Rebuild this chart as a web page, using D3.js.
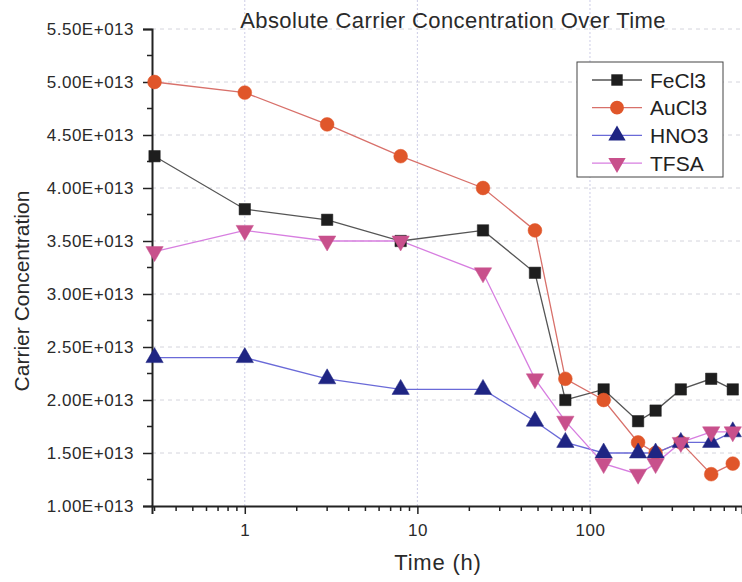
<!DOCTYPE html>
<html>
<head>
<meta charset="utf-8">
<script src="https://cdn.jsdelivr.net/npm/d3@7"></script>
<style>
  body { margin: 0; background: #fff; }
  svg { display: block; font-family: "Liberation Sans", Arial, sans-serif; }
</style>
</head>
<body>
<div id="chart-holder"></div>
<script>
// data
var times = [0.3, 1, 3, 8, 24, 48, 72, 120, 190, 240, 336, 504, 672];
var fecl3 = [4.3, 3.8, 3.7, 3.5, 3.6, 3.2, 2.0, 2.1, 1.8, 1.9, 2.1, 2.2, 2.1];
var aucl3 = [5.0, 4.9, 4.6, 4.3, 4.0, 3.6, 2.2, 2.0, 1.6, 1.5, 1.6, 1.3, 1.4];
var hno3 = [2.4, 2.4, 2.2, 2.1, 2.1, 1.8, 1.6, 1.5, 1.5, 1.5, 1.6, 1.6, 1.7];
var tfsa = [3.4, 3.6, 3.5, 3.5, 3.2, 2.2, 1.8, 1.4, 1.3, 1.4, 1.6, 1.7, 1.7];
var yTicks = [1.0, 1.5, 2.0, 2.5, 3.0, 3.5, 4.0, 4.5, 5.0, 5.5];
var xTicks = [1, 10, 100];

// series setup
var series = [
  { name: "FeCl3", values: fecl3, line: "#555555", fill: "#1e1e1e", shape: d3.symbolSquare, size: 130, rot: 0 },
  { name: "AuCl3", values: aucl3, line: "#d8706a", fill: "#e0562a", shape: d3.symbolCircle, size: 150, rot: 0 },
  { name: "HNO3", values: hno3, line: "#6a6ad8", fill: "#1f2583", shape: d3.symbolTriangle, size: 130, rot: 0 },
  { name: "TFSA", values: tfsa, line: "#d77ee0", fill: "#c8508c", shape: d3.symbolTriangle, size: 130, rot: 180 }
];

var svg = d3.select("#chart-holder")
  .append("svg")
  .attr('width', 742)
  .attr('height', 582);

// scales
var x = d3.scaleLog()
  .domain([0.29, 760])
  .range([152, 742]);
var y = d3.scaleLinear()
  .domain([1.0, 5.5])
  .range([506, 29]);

// grid lines
svg.selectAll("line.grid-y")
  .data(yTicks.slice(1))
  .enter()
  .append("line")
  .attr('class', 'grid-y')
  .attr('x1', 152)
  .attr('x2', 742)
  .attr('y1', function(d) { return y(d); })
  .attr('y2', function(d) { return y(d); })
  .attr('stroke', '#d4d4dc')
  .attr('stroke-width', 1)
  .attr('stroke-dasharray', '4,4');

svg.selectAll("line.grid-x")
  .data(xTicks)
  .enter()
  .append("line")
  .attr('class', 'grid-x')
  .attr('x1', function(d) { return x(d); })
  .attr('x2', function(d) { return x(d); })
  .attr('y1', 0)
  .attr('y2', 506)
  .attr('stroke', '#cdcde6')
  .attr('stroke-width', 1)
  .attr('stroke-dasharray', '2,2');

// y axis
var yAxis = d3.axisLeft(y)
  .tickValues(yTicks)
  .tickSize(9)
  .tickPadding(9)
  .tickFormat(function(d) { return d.toFixed(2) + "E+013"; });
var gy = svg.append("g")
  .attr('transform', 'translate(152,0)')
  .call(yAxis);
gy.select(".domain").attr('stroke', '#222').attr('stroke-width', 2);
gy.selectAll(".tick line").attr('stroke', '#222').attr('stroke-width', 1.5);
gy.selectAll(".tick text")
  .attr('font-size', 17)
  .attr('letter-spacing', 0.5)
  .attr('fill', '#2a2a2a')
  .attr('font-family', '"Liberation Sans", Arial, sans-serif');

// y minor ticks
var yMinor = d3.range(1.25, 5.5, 0.5);
gy.selectAll("line.minor")
  .data(yMinor)
  .enter()
  .append("line")
  .attr('class', 'minor')
  .attr('x1', -5)
  .attr('x2', 0)
  .attr('y1', function(d) { return y(d); })
  .attr('y2', function(d) { return y(d); })
  .attr('stroke', '#222')
  .attr('stroke-width', 1.5);

// x axis
var xAxis = d3.axisBottom(x)
  .tickValues(xTicks)
  .tickSize(8)
  .tickPadding(10)
  .tickFormat(d3.format("d"));
var gx = svg.append("g")
  .attr('transform', 'translate(0,506)')
  .call(xAxis);
gx.select(".domain").attr('stroke', '#222').attr('stroke-width', 2);
gx.selectAll(".tick line").attr('stroke', '#222').attr('stroke-width', 1.5);
gx.selectAll(".tick text")
  .attr('font-size', 17)
  .attr('letter-spacing', 0.5)
  .attr('fill', '#2a2a2a')
  .attr('font-family', '"Liberation Sans", Arial, sans-serif');

// x minor ticks
var xMinor = x.ticks().filter(function(d) {
  return xTicks.indexOf(d) < 0 && d >= 0.29 && d <= 760;
});
gx.selectAll("line.minor")
  .data(xMinor)
  .enter()
  .append("line")
  .attr('class', 'minor')
  .attr('x1', function(d) { return x(d); })
  .attr('x2', function(d) { return x(d); })
  .attr('y1', 0)
  .attr('y2', 5)
  .attr('stroke', '#222')
  .attr('stroke-width', 1.5);

// lines and markers
var line = d3.line()
  .x(function(d, i) { return x(times[i]); })
  .y(function(d) { return y(d); });

series.forEach(function(s) {
  svg.append("path")
    .datum(s.values)
    .attr('d', line)
    .attr('fill', 'none')
    .attr('stroke', s.line)
    .attr('stroke-width', 1.3);
});

series.forEach(function(s) {
  svg.selectAll("path.mark-" + s.name)
    .data(s.values)
    .enter()
    .append("path")
    .attr('class', 'mark-' + s.name)
    .attr('d', d3.symbol().type(s.shape).size(s.size))
    .attr('transform', function(d, i) {
      return 'translate(' + x(times[i]) + ',' + y(d) + ') rotate(' + s.rot + ')';
    })
    .attr('fill', s.fill)
    .attr('stroke', s.fill)
    .attr('stroke-width', 0.5);
});

// legend
var legend = svg.append("g");
legend.append("rect")
  .attr('x', 577)
  .attr('y', 62)
  .attr('width', 146)
  .attr('height', 115)
  .attr('fill', '#fff')
  .attr('stroke', '#444')
  .attr('stroke-width', 1);

var rowY = function(i) { return 80 + i * 27.7; };
series.forEach(function(s, i) {
  legend.append("line")
    .attr('x1', 592)
    .attr('x2', 642)
    .attr('y1', rowY(i))
    .attr('y2', rowY(i))
    .attr('stroke', s.line)
    .attr('stroke-width', 1.3);
  legend.append("path")
    .attr('d', d3.symbol().type(s.shape).size(s.size))
    .attr('transform', 'translate(617,' + rowY(i) + ') rotate(' + s.rot + ')')
    .attr('fill', s.fill);
  legend.append("text")
    .attr('x', 650)
    .attr('y', rowY(i) + 7.5)
    .attr('font-size', 21)
    .attr('fill', '#222')
    .text(s.name);
});

// title and axis labels
svg.append("text")
  .attr('x', 453)
  .attr('y', 28)
  .attr('text-anchor', 'middle')
  .attr('font-size', 22)
  .attr('letter-spacing', 0.4)
  .attr('fill', '#2a2a2a')
  .text("Absolute Carrier Concentration Over Time");

svg.append("text")
  .attr('x', 438)
  .attr('y', 570)
  .attr('text-anchor', 'middle')
  .attr('font-size', 22)
  .attr('letter-spacing', 0.8)
  .attr('fill', '#2a2a2a')
  .text("Time (h)");

svg.append("text")
  .attr('transform', 'translate(29,291) rotate(-90)')
  .attr('text-anchor', 'middle')
  .attr('font-size', 21)
  .attr('fill', '#2a2a2a')
  .text("Carrier Concentration");
</script>
</body>
</html>
